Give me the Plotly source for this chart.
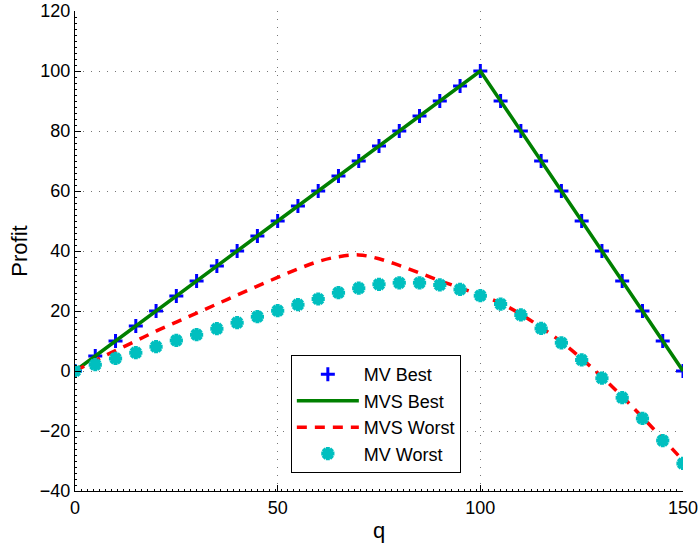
import plotly.graph_objects as go

q = [0, 5, 10, 15, 20, 25, 30, 35, 40, 45, 50, 55, 60, 65, 70, 75, 80, 85, 90, 95, 100,
     105, 110, 115, 120, 125, 130, 135, 140, 145, 150]

mv_best = [0, 5, 10, 15, 20, 25, 30, 35, 40, 45, 50, 55, 60, 65, 70, 75, 80, 85, 90, 95, 100,
           90, 80, 70, 60, 50, 40, 30, 20, 10, 0]

mvs_best = [0, 5, 10, 15, 20, 25, 30, 35, 40, 45, 50, 55, 60, 65, 70, 75, 80, 85, 90, 95, 100,
            90, 80, 70, 60, 50, 40, 30, 20, 10, 0]

mvs_worst = [0, 3.5, 6.8, 10, 13.3, 16.3, 19.3, 22.3, 25.3, 28.3, 31.2, 34, 36.5, 38.1, 38.7,
             37.4, 35.2, 32.7, 30.1, 27.7, 25.3, 22.6, 18.9, 14.5, 9.7, 4.1, -2.0, -8.5,
             -15.4, -22.6, -29.8]

mv_worst = [0, 2.1, 4.2, 6.1, 8.1, 10.2, 12.1, 14.1, 16.1, 18.1, 20.1, 22.1, 24.0, 26.1, 27.6,
            28.9, 29.4, 29.4, 28.7, 27.2, 25.1, 22.3, 18.7, 14.2, 9.4, 3.7, -2.4, -8.9,
            -15.8, -23.2, -30.8]

x_ticks = [0, 50, 100, 150]
y_ticks = [-40, -20, 0, 20, 40, 60, 80, 100, 120]

FONT = "Liberation Sans, Arial, sans-serif"

fig = go.Figure()
fig.add_trace(go.Scatter(
    x=q, y=mv_best, mode="markers", name="MV Best",
    marker=dict(symbol="cross-thin-open", size=10, color="#0000FF",
                line=dict(color="#0000FF", width=3))))
fig.add_trace(go.Scatter(
    x=q, y=mvs_best, mode="lines", name="MVS Best",
    line=dict(color="#008000", width=3.5)))
fig.add_trace(go.Scatter(
    x=q, y=mvs_worst, mode="lines", name="MVS Worst", line_shape="spline",
    line=dict(color="#FF0000", width=3.5, dash="10px,8px")))
fig.add_trace(go.Scatter(
    x=q, y=mv_worst, mode="markers", name="MV Worst",
    marker=dict(symbol="asterisk-open", size=11, color="#00BFBF",
                line=dict(color="#00BFBF", width=4))))

axis_common = dict(
    showgrid=True, gridcolor="#777777", griddash="1px,7px", gridwidth=1,
    zeroline=False, showline=True, linecolor="black", linewidth=1,
    ticks="inside", ticklen=6, tickcolor="black", automargin=False,
    tickfont=dict(family=FONT, size=18, color="black"),
)

fig.update_layout(
    width=699, height=543,
    margin=dict(l=75, r=16, t=11, b=52),
    paper_bgcolor="white", plot_bgcolor="white",
    font=dict(family=FONT, size=18, color="black"),
    xaxis=dict(range=[0, 150], tickvals=x_ticks, title=dict(text="q", standoff=6),
               minor=dict(ticks="inside", ticklen=2, dtick=1.5, tickcolor="black", showgrid=False),
               **axis_common),
    yaxis=dict(range=[-40, 120], tickvals=y_ticks, title=dict(text="Profit", standoff=6),
               minor=dict(ticks="inside", ticklen=2, dtick=2, tickcolor="black", showgrid=False),
               **axis_common),
    legend=dict(x=0.355, y=0.283, xanchor="left", yanchor="top",
                bgcolor="white", bordercolor="black", borderwidth=1,
                font=dict(family=FONT, size=18),
                tracegroupgap=0, itemwidth=62),
    showlegend=True,
)

fig.write_html("out.html")
